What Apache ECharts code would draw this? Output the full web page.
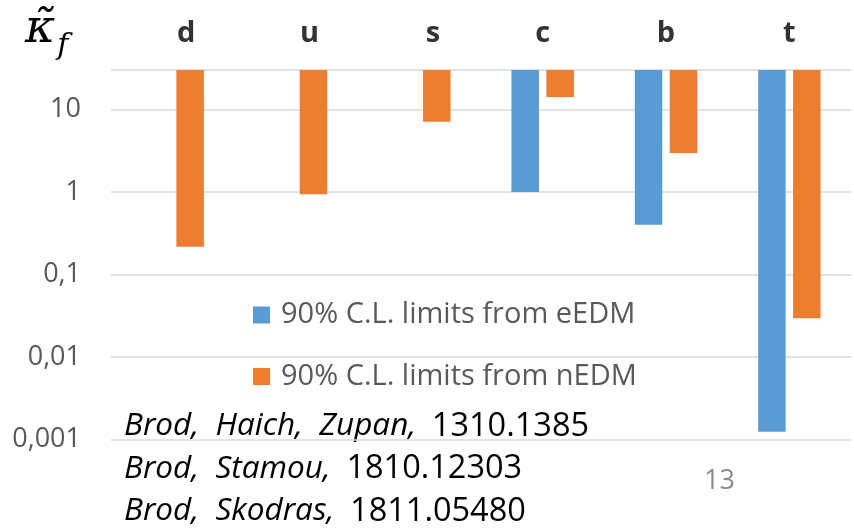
<!DOCTYPE html>
<html><head><meta charset="utf-8">
<script src="https://cdn.jsdelivr.net/npm/echarts@6/dist/echarts.min.js"></script>
<style>html,body{margin:0;padding:0;background:#fff}#c{width:854px;height:528px}</style>
</head><body><div id="c"></div>
<script>
const categories = ['d', 'u', 's', 'c', 'b', 't'];
const eEDM = [null, null, null, 1.0, 0.40, 0.00124];
const nEDM = [0.217, 0.94, 7.1, 14.1, 2.97, 0.0294];
const tickValues = [0.001, 0.01, 0.1, 1, 10];
const tickLabels = ['0,001', '0,01', '0,1', '1', '10'];
const seriesNames = ['90% C.L. limits from eEDM', '90% C.L. limits from nEDM'];
const refs = [['Brod, Haich, Zupan,', '1310.1385'], ['Brod, Stamou,', '1810.12303'], ['Brod, Skodras,', '1811.05480']];
const pageNumber = '13';

const FONT = 'Open Sans';
const chart = echarts.init(document.getElementById('c'), null, {renderer: 'canvas'});

function yLabel(v) {
  for (let i = 0; i < tickValues.length; i++) {
    if (Math.abs(Math.log10(v) - Math.log10(tickValues[i])) < 1e-6) return tickLabels[i];
  }
  return '';
}

const graphics = [
  {type: 'text', left: 25, top: 7, style: {
    text: '{k|κ̃}{f|f}', rich: {
      k: {fontFamily: 'DejaVu Serif', fontStyle: 'italic', fontSize: 46, fill: '#000'},
      f: {fontFamily: 'DejaVu Serif', fontStyle: 'italic', fontSize: 30, fill: '#000', padding: [32, 0, 0, 2]}
    }}},
  {type: 'text', left: 704, top: 468, style: {text: pageNumber, fontFamily: FONT, fontSize: 27, fill: '#8c8c8c'}}
];
refs.forEach((r, i) => {
  graphics.push({type: 'text', left: 124, top: 410 + i * 42.5, style: {
    text: '{i|' + r[0].replace(/, /g, ',  ') + '\u2002}{n|' + r[1] + '}', rich: {
      i: {fontFamily: FONT, fontStyle: 'italic', fontSize: 31.5, fill: '#000'},
      n: {fontFamily: FONT, fontSize: 32.5, fill: '#000'}
    }}});
});

chart.setOption({
  animation: false,
  backgroundColor: '#fff',
  grid: {left: 111, right: 3, top: 70, bottom: 88.5, containLabel: false},
  legend: {
    orient: 'vertical', left: 253, top: 300, padding: 0, itemGap: 31.5,
    itemWidth: 17, itemHeight: 17, icon: 'rect',
    data: seriesNames,
    textStyle: {fontFamily: FONT, fontSize: 29, color: '#595959', lineHeight: 30, padding: [0, 0, 0, 6]}
  },
  xAxis: {
    type: 'category', data: categories, position: 'top',
    axisLine: {show: false}, axisTick: {show: false},
    axisLabel: {
      margin: 22,
      formatter: (v, i) => (i < 3 ? '{a|' + v + '}' : '{b|' + v + '}'),
      rich: {
        a: {fontFamily: FONT, fontWeight: 'bold', fontSize: 29, color: '#333', padding: [0, 0, 0, 27]},
        b: {fontFamily: FONT, fontWeight: 'bold', fontSize: 29, color: '#333'}
      }
    }
  },
  yAxis: {
    type: 'log', logBase: 10, min: 0.001, max: 30, startValue: 30,
    axisLine: {show: false}, axisTick: {show: false},
    splitLine: {show: true, lineStyle: {color: '#d9d9d9', width: 1.5}},
    axisLabel: {margin: 30, fontFamily: FONT, fontSize: 27, color: '#595959', formatter: yLabel}
  },
  series: [
    {name: seriesNames[0], type: 'bar', data: eEDM, barWidth: 27.5, barGap: '27%', itemStyle: {color: '#5B9BD5'}},
    {name: seriesNames[1], type: 'bar', data: nEDM, barWidth: 27.5, barGap: '27%', itemStyle: {color: '#ED7D31'}}
  ],
  graphic: graphics
});
</script></body></html>
